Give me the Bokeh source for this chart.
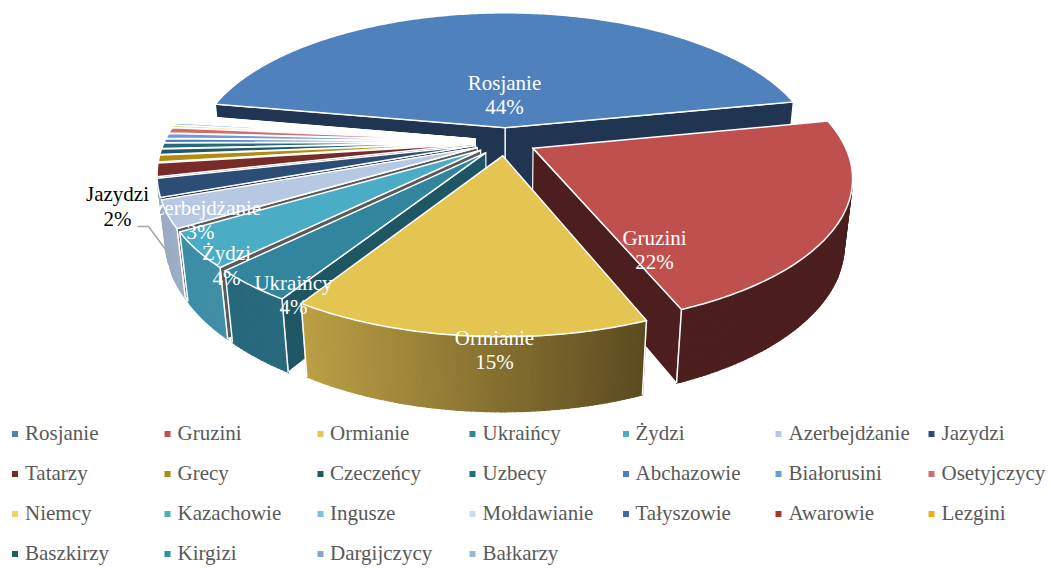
import math
from bokeh.plotting import figure
from bokeh.models import Range1d, ColumnDataSource
from bokeh.core.properties import value
from bokeh.embed import file_html
from bokeh.resources import INLINE

categories = ["Rosjanie", "Gruzini", "Ormianie", "Ukraińcy", "Żydzi", "Azerbejdżanie", "Jazydzi",
              "Tatarzy", "Grecy", "Czeczeńcy", "Uzbecy", "Abchazowie", "Białorusini", "Osetyjczycy",
              "Niemcy", "Kazachowie", "Ingusze", "Mołdawianie", "Tałyszowie", "Awarowie", "Lezgini",
              "Baszkirzy", "Kirgizi", "Dargijczycy", "Bałkarzy"]
shares = [44, 22, 15.1, 3.6, 3.9, 3, 2, 1.45, 0.75, 0.6, 0.6, 0.45, 0.55, 0.6, 0.25,
          0.25, 0.14, 0.12, 0.12, 0.12, 0.12, 0.08, 0.08, 0.07, 0.05]
top_colors = ["#4f81bd", "#c0504d", "#e4c552", "#31859c", "#4bacc6", "#b7c9e2", "#2c4d75",
              "#772c2a", "#b28c0e", "#215868", "#276a7c", "#4a7ebb", "#6f9bd1", "#d16d6a",
              "#f2cf6b", "#4bacc6", "#7cc3d6", "#cddaeb", "#3c6aa5", "#a33835", "#e7af18",
              "#215a69", "#2f8fa8", "#86a6d0", "#9ab6dc"]
side_colors = ["#1f3552", "#4c1f1e", "#5c4a1c", "#1f5663", "#5a5a5a", "#5a5a5a", "#1a2f48",
               "#4a1b1a", "#6f570a", "#143640", "#18424d", "#2e4e74", "#456082", "#824442",
               "#96803f", "#2e6b7b", "#4d7985", "#7f8791", "#254267", "#652321", "#8f6c0f",
               "#143840", "#1d5968", "#536781", "#5f7188"]
wall_left = {1: "#4c1f1e", 2: "#bb9f45", 3: "#27687c", 4: "#3c8ea6", 5: "#9aacc5", 6: "#9aacc5"}
wall_right = {1: "#4c1f1e", 2: "#5c4b20", 3: "#2a6a7e", 4: "#418fa6", 5: "#a0b0c8", 6: "#9aacc5"}
edge_first = {2, 3, 4, 5}
edge_last = {1, 2, 3, 4}

label_slots = {0: (504, 82, 106), 1: (654, 237, 261), 2: (494, 337, 361), 3: (293, 282, 306),
               4: (226, 252, 277), 5: (200, 207, 231)}
outside_label = (6, 117, 193, 218)
leader_x = [137, 148, 168]
leader_y = [226, 226, 253]

legend_marker_x = [14.5, 167, 320, 472, 625.5, 778, 931]
legend_text_x = [24.5, 177, 329.5, 482, 635, 788, 941]
legend_y = [432.5, 472.5, 512.5, 552.5]

# perspective camera of the pie, in reference pixels
CX, CY, F = 505.0, 141.0, 310.0
SIN, COS, K, Q = 0.455, 0.886, 0.187, 0.0977
EXPLODE, THICK = 0.10, 0.24
START = -79.7


def project(u, v, z=0.0):
    w = 1 + K * v - Q * z
    return CX + F * u / w, CY - F * (v * SIN + z * COS) / w


def hex2rgb(h):
    return tuple(int(h[i:i + 2], 16) for i in (1, 3, 5))


def mix(a, b, t):
    ra, rb = hex2rgb(a), hex2rgb(b)
    return "#%02x%02x%02x" % tuple(round(x + (y - x) * t) for x, y in zip(ra, rb))


polys = dict(xs=[], ys=[], fill=[], line=[], width=[], falpha=[])


def add(pts, fill, line, width, falpha=1.0):
    polys["xs"].append([q[0] for q in pts])
    polys["ys"].append([q[1] for q in pts])
    polys["fill"].append(fill)
    polys["line"].append(line)
    polys["width"].append(width)
    polys["falpha"].append(falpha)


total = sum(shares)
slices = []
cum = START
for i, val in enumerate(shares):
    sweep = val / total * 360
    slices.append((i, cum, cum + sweep))
    cum += sweep


def draw_slice(i, a, b):
    mid = math.radians((a + b) / 2)
    ou, ov = EXPLODE * math.sin(mid), EXPLODE * math.cos(mid)
    n = max(2, int(math.ceil((b - a) / 0.75)))
    angs = [a + (b - a) * j / n for j in range(n + 1)]

    def rim(th, z=0.0):
        r = math.radians(th)
        return project(ou + math.sin(r), ov + math.cos(r), z)

    apex, apex_b = project(ou, ov), project(ou, ov, -THICK)
    # radial faces
    if math.cos(math.radians(a - 90)) < 0:
        add([apex, rim(a), rim(a, -THICK), apex_b], side_colors[i], "#ffffff", 1.2)
    if math.cos(math.radians(b + 90)) < 0:
        add([apex, rim(b), rim(b, -THICK), apex_b], side_colors[i], "#ffffff", 1.2)
    # outer wall, strip by strip, only where it faces the camera
    vis = []
    for t0, t1 in zip(angs[:-1], angs[1:]):
        q = [rim(t0), rim(t1), rim(t1, -THICK), rim(t0, -THICK)]
        area = sum(q[k][0] * q[(k + 1) % 4][1] - q[(k + 1) % 4][0] * q[k][1] for k in range(4))
        if area < 0:
            vis.append((t0, t1, q))
    if vis and i in wall_left:
        xs = [p[0] for v in vis for p in v[2]]
        lo, hi = min(xs), max(xs)
        for t0, t1, q in vis:
            x = (q[0][0] + q[1][0]) / 2
            col = mix(wall_left[i], wall_right[i], (x - lo) / (hi - lo))
            add(q, col, col, 1.3)
        if i in edge_first:
            add([rim(vis[0][0]), rim(vis[0][0], -THICK)], "#ffffff", "#ffffff", 1.5, 0.0)
        if i in edge_last:
            add([rim(vis[-1][1]), rim(vis[-1][1], -THICK)], "#ffffff", "#ffffff", 1.5, 0.0)
    # top face
    add([apex] + [rim(t) for t in angs], top_colors[i], "#ffffff", 1.5)


order = [slices[0]] + list(reversed(slices[3:])) + [slices[1], slices[2]]
for s in order:
    draw_slice(*s)

p = figure(width=1051, height=568, x_range=Range1d(0, 1051), y_range=Range1d(568, 0),
           output_backend="svg", toolbar_location=None, min_border=0,
           outline_line_color=None, background_fill_color="#ffffff")
p.axis.visible = False
p.grid.visible = False

p.patches("xs", "ys", source=ColumnDataSource(polys), fill_color="fill", line_color="line",
          line_width="width", fill_alpha="falpha", line_join="miter")

font = value("Liberation Serif")
# data labels
lx, ly, lt = [], [], []
for i, (x, y1, y2) in label_slots.items():
    lx += [x, x]
    ly += [y1, y2]
    lt += [categories[i], f"{round(shares[i])}%"]
p.text(lx, ly, text=lt, text_font=font, text_font_size="21px", text_color="#ffffff",
       text_align="center", text_baseline="middle")
i6, x6, y61, y62 = outside_label
p.text([x6, x6], [y61, y62], text=[categories[i6], f"{round(shares[i6])}%"], text_font=font,
       text_font_size="21px", text_color="#000000", text_align="center", text_baseline="middle")
p.line(leader_x, leader_y, line_color="#a6a6a6", line_width=1.5)

# legend
mx, my, mc, tx, ty = [], [], [], [], []
for k in range(len(categories)):
    r, c = divmod(k, 7)
    mx.append(legend_marker_x[c])
    tx.append(legend_text_x[c])
    my.append(legend_y[r] + 1)
    ty.append(legend_y[r])
    mc.append(top_colors[k])
p.scatter(mx, my, marker="square", size=6, fill_color=mc, line_color=None)
p.text(tx, ty, text=categories, text_font=font, text_font_size="21px", text_color="#595959",
       text_align="left", text_baseline="middle")

open("out.html", "w").write(file_html(p, INLINE))
